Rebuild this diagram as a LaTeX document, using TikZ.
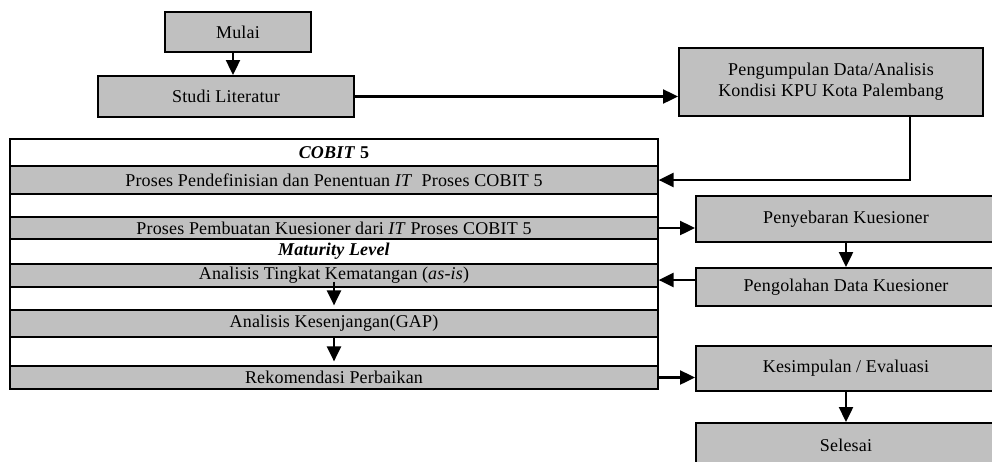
\documentclass[tikz,border=0pt]{standalone}
\usepackage{fontspec}
\setmainfont[LetterSpace=1]{Liberation Serif}
\usetikzlibrary{arrows.meta,calc}
\definecolor{boxgray}{HTML}{C0C0C0}
\begin{document}
\begin{tikzpicture}[x=1pt,y=-1pt,
  font=\fontsize{18}{21}\selectfont,
  box/.style={draw, line width=2pt, fill=boxgray, inner sep=0pt, align=center},
  whiterow/.style={draw, line width=1.2pt, inner sep=0pt, minimum width=648pt},
  grayrow/.style={whiterow, fill=boxgray},
  arr/.style={line width=2.4pt, -{Triangle[length=15pt,width=14pt]}}]
\clip (0,0) rectangle (992,461);
\fill[white] (0,0) rectangle (992,461);
% left column boxes
\node[box, minimum width=146pt, minimum height=40pt] (mulai) at (238,32) {Mulai};
\node[box, minimum width=256pt, minimum height=41pt] (studi) at (226,96.5) {Studi Literatur};
\node[box, minimum width=304pt, minimum height=68pt] (peng) at (831,82) {Pengumpulan Data/Analisis\\Kondisi KPU Kota Palembang};
% table
\node[whiterow, minimum height=27pt] (r1) at (334,152.5) {\textbf{\textit{COBIT}} \textbf{5}};
\node[grayrow,  minimum height=28pt] (r2) at (334,180) {Proses Pendefinisian dan Penentuan \textit{IT}~ Proses COBIT 5};
\node[whiterow, minimum height=23pt] (r3) at (334,205.5) {};
\node[grayrow,  minimum height=22pt] (r4) at (334,228) {Proses Pembuatan Kuesioner dari \textit{IT} Proses COBIT 5};
\node[whiterow, minimum height=25pt] (r5) at (334,251.5) {\textbf{\textit{Maturity Level}}};
\node[grayrow,  minimum height=23pt] (r6) at (334,275.5) {Analisis Tingkat Kematangan (\textit{as-is})};
\node[whiterow, minimum height=23pt] (r7) at (334,298.5) {};
\node[grayrow,  minimum height=27pt] (r8) at (334,323.5) {Analisis Kesenjangan(GAP)};
\node[whiterow, minimum height=29pt] (r9) at (334,351.5) {};
\node[grayrow,  minimum height=23pt] (r10) at (334,377.5) {Rekomendasi Perbaikan};
% right column
\node[box, minimum width=300pt, minimum height=46pt] (peny) at (846,219) {Penyebaran Kuesioner};
\node[box, minimum width=300pt, minimum height=38pt] (olah) at (846,287) {\raisebox{-3pt}{Pengolahan Data Kuesioner}};
\node[box, minimum width=300pt, minimum height=45pt] (kes) at (846,368.5) {Kesimpulan / Evaluasi};
\node[box, minimum width=300pt, minimum height=47pt] (sel) at (846,446.5) {\raisebox{3pt}{Selesai}};
% helper coordinates
\coordinate (ax) at (233,0);
\coordinate (vx) at (910,0);
\coordinate (oy) at (0,280);
% connectors
\draw[arr] (mulai.south -| ax) -- (studi.north -| ax);
\draw[arr] (studi.east) -- (studi.east -| peng.west);
\draw[arr] (peng.south -| vx) |- (r2.east);
\draw[arr] (r4.east) -- (r4.east -| peny.west);
\draw[arr] (peny.south) -- (olah.north);
\draw[arr] (olah.west |- oy) -- (r6.east |- oy);
\draw[arr] (r10.east) -- (r10.east -| kes.west);
\draw[arr] (kes.south) -- (sel.north);
\draw[arr, shorten >=4pt] ($(r6.south)+(0,-6)$) -- (r8.north);
\draw[arr, shorten >=4pt] (r8.south) -- (r10.north);
\end{tikzpicture}
\end{document}
